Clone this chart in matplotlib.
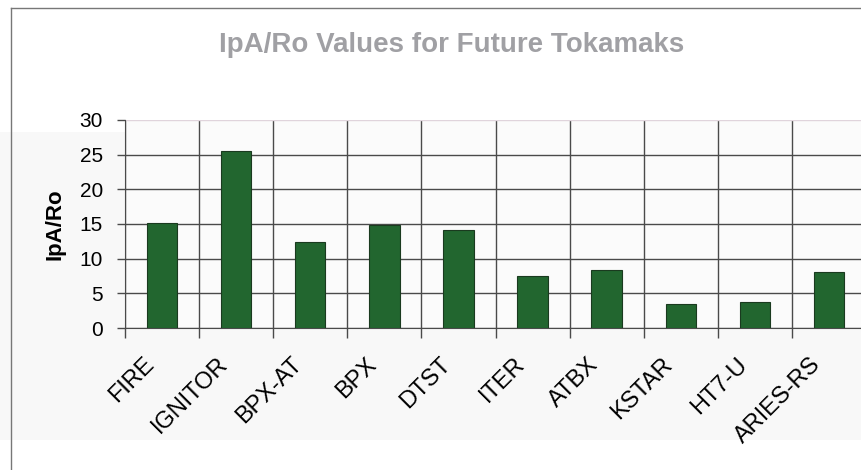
import matplotlib
matplotlib.use("Agg")
import matplotlib.pyplot as plt
import numpy as np
from matplotlib.ticker import FixedLocator
from matplotlib.transforms import ScaledTranslation

categories = ["FIRE", "IGNITOR", "BPX-AT", "BPX", "DTST", "ITER", "ATBX", "KSTAR", "HT7-U", "ARIES-RS"]
values = [15.1, 25.5, 12.45, 14.9, 14.1, 7.55, 8.3, 3.5, 3.75, 8.1]
yticks = [0, 5, 10, 15, 20, 25, 30]

plt.rcParams['font.family'] = ['Liberation Sans', 'DejaVu Sans']

fig = plt.figure(figsize=(8.61, 4.70), dpi=100)
fig.patch.set_facecolor('white')

# light background band and frame
fig.patches.append(plt.Rectangle((0.0, 0.064), 1.0, 0.655, transform=fig.transFigure,
                                 facecolor='#f8f8f8', edgecolor='none', zorder=-5))
fig.add_artist(plt.Line2D([0.0128, 0.0128], [0.0, 0.983], transform=fig.transFigure, color='#777777', lw=1.0))
fig.add_artist(plt.Line2D([0.0128, 1.0], [0.983, 0.983], transform=fig.transFigure, color='#777777', lw=1.0))

ax = fig.add_axes([0.1452, 0.302, 0.8606, 0.443])
ax.set_facecolor('#fbfbfb')
x = np.arange(len(categories))
ax.bar(x, values, width=0.41, color='#22662f', edgecolor='#1a3a1f', linewidth=0.8, zorder=3)

ax.set_xlim(-0.5, len(categories) - 0.5)
ax.set_ylim(0, 30)
ax.set_yticks(yticks)
ax.set_yticklabels([str(v) for v in yticks], fontsize=15)
ax.set_xticks(x)
ax.xaxis.set_minor_locator(FixedLocator(np.arange(len(categories) + 1) - 0.5))
ax.tick_params(axis='x', which='major', length=0, pad=14)
ax.tick_params(axis='x', which='minor', length=7, color='#4a4a4a', width=1, direction='out')
ax.tick_params(axis='y', which='major', length=6, color='#4a4a4a', width=1, direction='out', pad=10)
ax.set_xticklabels(categories, fontsize=17, rotation=45, ha='right', rotation_mode='anchor')
shift = ScaledTranslation(-0.19, -0.06, fig.dpi_scale_trans)
for lbl in ax.get_xticklabels():
    lbl.set_transform(lbl.get_transform() + shift)

ax.grid(True, axis='y', which='major', color='#4a4a4a', lw=1.0, zorder=1)
ax.grid(True, axis='x', which='minor', color='#4a4a4a', lw=1.0, zorder=1)
ax.grid(False, axis='x', which='major')
ax.get_ygridlines()[-1].set_color('#e0d4dc')

for s in ['top', 'right']:
    ax.spines[s].set_visible(False)
ax.spines['left'].set_color('#4a4a4a')
ax.spines['bottom'].set_color('#4a4a4a')

ax.set_ylabel('IpA/Ro', fontsize=16, fontweight='bold', labelpad=10)

fig.text(0.524, 0.905, 'IpA/Ro Values for Future Tokamaks', ha='center', va='center',
         fontsize=20, fontweight='bold', color='#a0a0a4')

fig.savefig('out.png', dpi=100)
